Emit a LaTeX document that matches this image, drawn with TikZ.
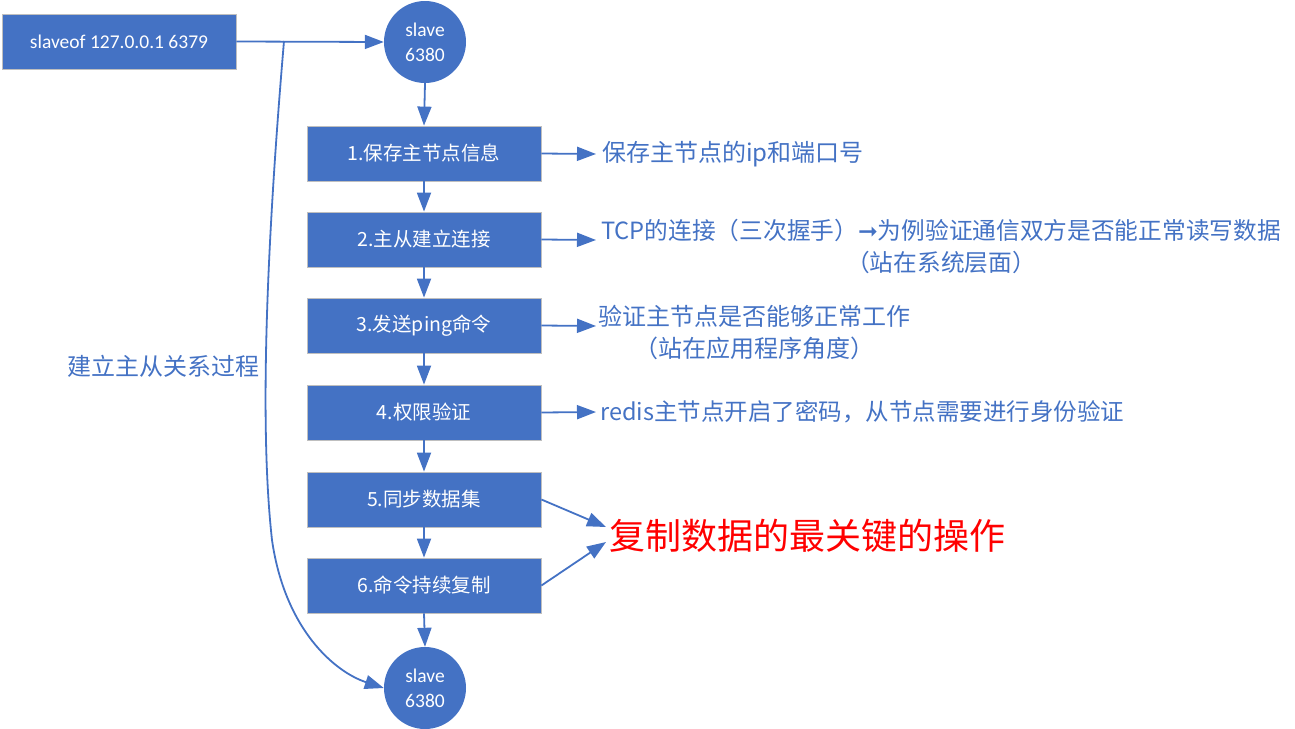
\documentclass[tikz,border=0pt]{standalone}
\usepackage{fontspec}
\setmainfont{Noto Sans CJK SC}
\newfontfamily\lat{Carlito}
\newfontfamily\dv{DejaVu Sans}
\usetikzlibrary{arrows.meta}
\definecolor{bl}{HTML}{4472C4}
\definecolor{rd}{HTML}{FF0000}
\tikzset{
  box/.style={rectangle, fill=bl, draw=black!25, line width=0.8pt, minimum width=234pt, minimum height=55pt, text=white, font=\fontsize{19.5}{22}\selectfont, inner sep=0pt},
  circ/.style={circle, fill=bl, minimum size=82pt, text=white, align=center, font=\lat\fontsize{19.5}{25}\selectfont, inner sep=0pt},
  arr/.style={draw=bl, line width=1.8pt, -{Triangle[length=19pt,width=14pt]}},
  lbl/.style={text=bl, font=\fontsize{24}{32}\selectfont, inner sep=0pt, align=center},
}
\begin{document}
\begin{tikzpicture}[x=1pt,y=-1pt]
\useasboundingbox (0,0) rectangle (1295,728);
\node[box, font=\lat\fontsize{19.5}{22}\selectfont] (s) at (119,41.5) {slaveof 127.0.0.1 6379};
\node[circ] (c1) at (425,42) {slave\\6380};
\node[box] (b1) at (424,153.5) {1.保存主节点信息};
\node[box] (b2) at (424,239.5) {2.主从建立连接};
\node[box] (b3) at (424,325.5) {3.发送ping命令};
\node[box] (b4) at (424,412.5) {4.权限验证};
\node[box] (b5) at (424,499.5) {5.同步数据集};
\node[box] (b6) at (424,585.5) {6.命令持续复制};
\node[circ] (c2) at (425,688) {slave\\6380};

\node[lbl, anchor=west] (l1) at (602,154) {保存主节点的ip和端口号};
\node[lbl, font=\fontsize{23.7}{32}\selectfont] (l2) at (941,246) {TCP的连接（三次握手）{\dv ➞}为例验证通信双方是否能正常读写数据\\（站在系统层面）};
\node[lbl] (l3) at (754,332) {验证主节点是否能够正常工作\\（站在应用程序角度）};
\node[lbl, anchor=west, font=\fontsize{23.5}{32}\selectfont] (l4) at (600,412) {redis主节点开启了密码，从节点需要进行身份验证};
\node[text=rd, font=\fontsize{36}{40}\selectfont, inner sep=0pt, anchor=west] (r) at (609,536) {复制数据的最关键的操作};
\node[lbl, anchor=west] (g) at (67,366) {建立主从关系过程};

\coordinate (j) at (284,41);
\coordinate (t1) at (596,154);
\coordinate (t2) at (596,240);
\coordinate (t3) at (596,326);
\coordinate (t4) at (596,412);
\coordinate (t5) at (606,527);
\coordinate (t6) at (606,542);

\draw[arr] (s.east) -- (c1.west);
\draw[arr] (c1.south) -- (b1.north);
\draw[arr] (b1.south) -- (b2.north);
\draw[arr] (b2.south) -- (b3.north);
\draw[arr] (b3.south) -- (b4.north);
\draw[arr] (b4.south) -- (b5.north);
\draw[arr] (b5.south) -- (b6.north);
\draw[arr] (b6.south) -- (c2.north);
\draw[arr] (b1.east) -- (t1);
\draw[arr] (b2.east) -- (t2);
\draw[arr] (b3.east) -- (t3);
\draw[arr] (b4.east) -- (t4);
\draw[arr] (b5.east) -- (t5);
\draw[arr] (b6.east) -- (t6);
\draw[arr] (j) .. controls (262,300) and (262,450) .. (272,540) .. controls (285,630) and (335,672) .. (c2.west);
\end{tikzpicture}
\end{document}
